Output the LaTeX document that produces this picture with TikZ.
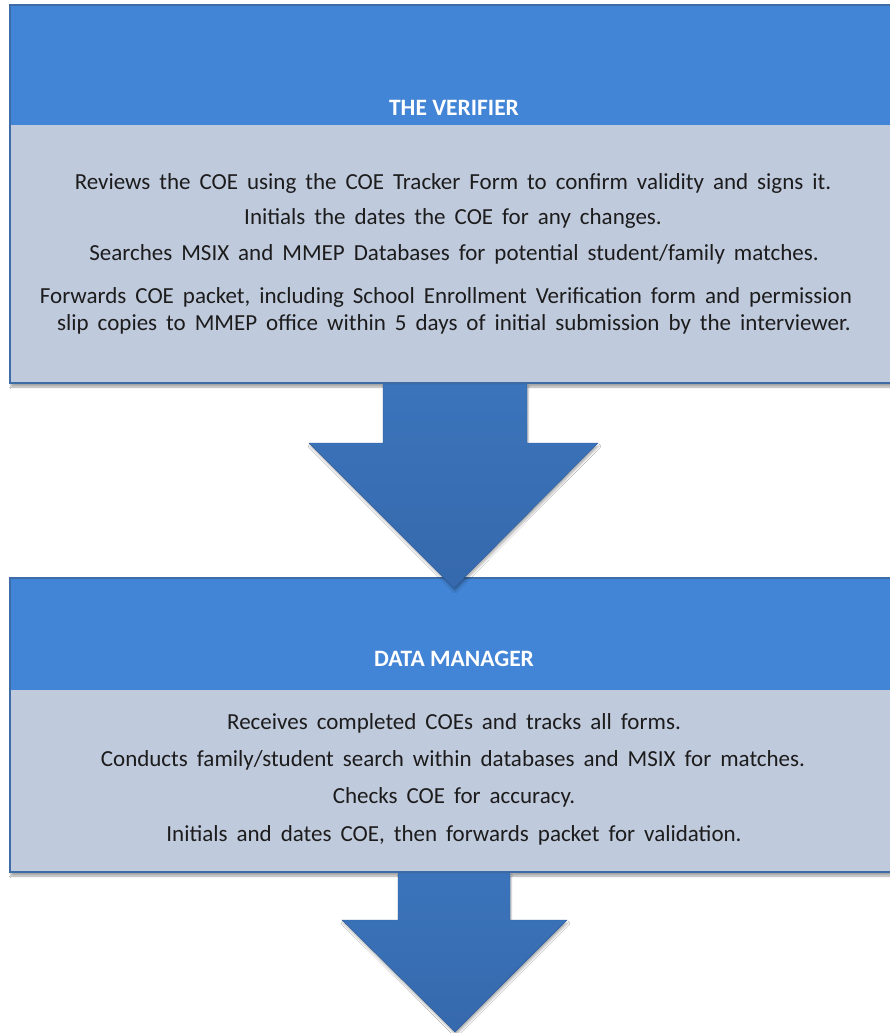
\documentclass[tikz,border=0pt]{standalone}
\usepackage{fontspec}
\setmainfont{Carlito}
\usetikzlibrary{shadows.blur}
\definecolor{hdrblue}{HTML}{4284D5}
\definecolor{bodygray}{HTML}{C0CADD}
\definecolor{edgeblue}{HTML}{3D6CA6}
\definecolor{arrowtop}{HTML}{3B74BB}
\definecolor{arrowbot}{HTML}{3669AD}
\definecolor{txt}{HTML}{1C1C1C}
\newcommand\widewordspace{\spaceskip=9pt plus 1pt\relax}
\tikzset{
  panel/.style={fill=bodygray, draw=edgeblue, line width=1.2pt,
    blur shadow={shadow xshift=1pt, shadow yshift=-4pt, shadow blur steps=6, shadow opacity=35}},
  header/.style={fill=hdrblue, draw=none},
  headtext/.style={font=\fontsize{23.5}{26}\selectfont\bfseries, text=white},
  bodytext/.style={font=\fontsize{23}{27}\selectfont, text=txt, execute at begin node=\widewordspace},
  bigarrow/.style={top color=arrowtop, bottom color=arrowbot, draw=arrowbot!90!black, line width=0.4pt,
    blur shadow={shadow xshift=1pt, shadow yshift=-3pt, shadow blur steps=5, shadow opacity=30}}
}
\begin{document}
\begin{tikzpicture}[x=1pt,y=-1pt]
\useasboundingbox (0,0) rectangle (890,1033);
\fill[white] (0,0) rectangle (890,1033);

% Box 1
\path[panel] (10,5) rectangle (895,383);
\path[header] (10.6,5.6) rectangle (894,125);
\node[headtext] (h1) at (454,108) {THE VERIFIER};
\node[bodytext] (a1) at (453,183) {Reviews the COE using the COE Tracker Form to confirm validity and signs it.};
\node[bodytext] (a2) at (453,218) {Initials the dates the COE for any changes.};
\node[bodytext] (a3) at (454,254) {Searches MSIX and MMEP Databases for potential student/family matches.};
\node[bodytext] (a4) at (446,297) {Forwards COE packet, including School Enrollment Verification form and permission};
\node[bodytext] (a5) at (454,324) {slip copies to MMEP office within 5 days of initial submission by the interviewer.};

% Box 2
\path[panel] (10,578) rectangle (895,872);
\path[header] (10.6,578.6) rectangle (894,690);
\node[headtext] (h2) at (454,659) {DATA MANAGER};
\node[bodytext] (b1) at (454,723) {Receives completed COEs and tracks all forms.};
\node[bodytext] (b2) at (453,760) {Conducts family/student search within databases and MSIX for matches.};
\node[bodytext] (b3) at (454,797) {Checks COE for accuracy.};
\node[bodytext] (b4) at (454,835) {Initials and dates COE, then forwards packet for validation.};

% Arrows
\path[bigarrow] (383,384) -- (527,384) -- (527,443) -- (598,443) -- (454,588) -- (309,443) -- (383,443) -- cycle;
\path[bigarrow] (398,873) -- (510,873) -- (510,920) -- (567,920) -- (455,1032) -- (342,920) -- (398,920) -- cycle;
\end{tikzpicture}
\end{document}
